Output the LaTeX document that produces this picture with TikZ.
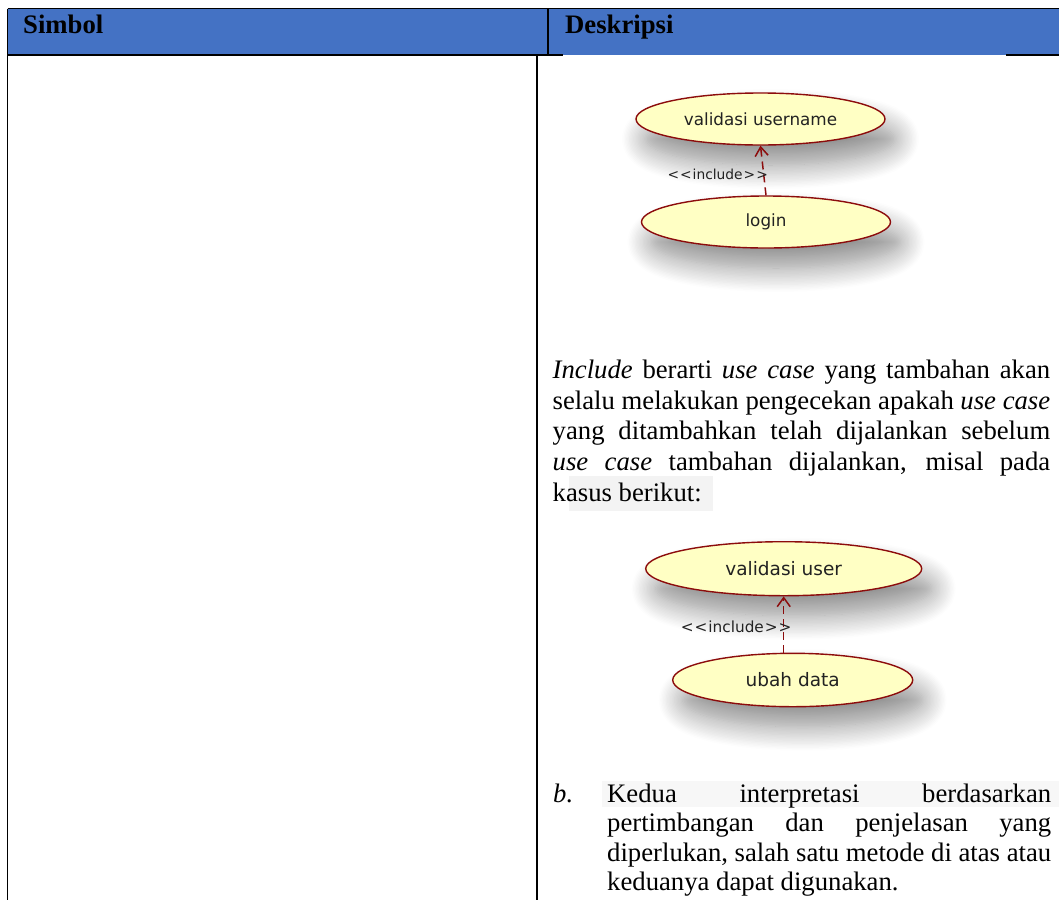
\documentclass[tikz,border=0pt]{standalone}
\usepackage{fontspec}
\setmainfont{Liberation Serif}
\newfontfamily\ucfont{DejaVu Sans}
\usetikzlibrary{shapes.geometric,arrows.meta,shadows.blur}

\definecolor{hdrblue}{RGB}{68,114,196}
\definecolor{ucfill}{RGB}{255,255,196}
\definecolor{ucedge}{RGB}{140,12,12}
\definecolor{uctext}{RGB}{34,34,34}
\definecolor{scanbg}{RGB}{243,243,243}

\tikzset{
  rule/.style={line width=1.5pt, black},
  hdrtext/.style={anchor=base west, inner sep=0pt,
    font=\fontsize{26.7}{30.7}\selectfont\bfseries},
  bodyline/.style={anchor=base west, inner sep=0pt,
    font=\fontsize{26.7}{30.7}\selectfont},
  usecase/.style={ellipse, draw=ucedge, line width=1.4pt, fill=ucfill,
    inner sep=0pt, text=uctext,
    blur shadow={shadow xshift=10pt, shadow yshift=-20pt,
      shadow blur radius=24pt, shadow opacity=45, shadow blur steps=18}},
  incl/.style={draw=ucedge, line width=1.5pt, dash pattern=on 8pt off 5pt,
    -{Straight Barb[length=9pt,width=13pt]}},
  incltext/.style={inner sep=0pt, text=uctext, anchor=east},
}

\begin{document}
\begin{tikzpicture}[x=1pt, y=-1pt]
  \useasboundingbox (0,0) rectangle (1059,900);

  % table header and rules
  \fill[hdrblue] (7.5,8.5) rectangle (1059,55);
  \draw[rule] (7.5,8.5) -- (1059,8.5);
  \draw[rule] (7.5,8.5) -- (7.5,900);
  \draw[rule] (548,8.5) -- (548,55);
  \draw[rule] (7.5,55) -- (563,55);
  \draw[rule] (1006,55) -- (1059,55);
  \draw[rule] (537,55) -- (537,900);

  \node[hdrtext] (hSym) at (23,33.5) {Simbol};
  \node[hdrtext] (hDesc) at (565,33.5) {Deskripsi};

  % first use case diagram
  \node[usecase, minimum width=249pt, minimum height=52pt,
        font=\ucfont\fontsize{16.8}{18}\selectfont]
        (valU) at (760.5,119) {validasi username};
  \node[usecase, minimum width=249pt, minimum height=52pt,
        font=\ucfont\fontsize{16.8}{18}\selectfont]
        (login) at (766,222) {login};
  \draw[incl] (login.north) -- (valU.south);
  \node[incltext, font=\ucfont\fontsize{13.8}{15}\selectfont]
        (incA) at (768,174) {<\kern1pt<\kern1pt include\kern1pt>\kern1pt>};

  % scanned text backgrounds
  \fill[scanbg] (569,476) rectangle (713,511);
  \fill[scanbg!70!white] (602,781) rectangle (1059,807);

  % paragraph
  \node[bodyline] (p1) at (552.5,378.5)
    {\makebox[497.5pt][s]{\textit{Include} berarti \textit{use case} yang tambahan akan}};
  \node[bodyline] (p2) at (552.5,409.2)
    {\makebox[497.5pt][s]{selalu melakukan pengecekan apakah \textit{use case}}};
  \node[bodyline] (p3) at (552.5,439.9)
    {\makebox[497.5pt][s]{yang ditambahkan telah dijalankan sebelum}};
  \node[bodyline] (p4) at (552.5,470.6)
    {\makebox[497.5pt][s]{\textit{use case} tambahan dijalankan, misal pada}};
  \node[bodyline] (p5) at (552.5,501.3) {kasus berikut:};

  % second use case diagram
  \node[usecase, minimum width=276pt, minimum height=54pt,
        font=\ucfont\fontsize{18.5}{20}\selectfont]
        (valUser) at (783.7,568.7) {validasi user};
  \node[usecase, minimum width=240pt, minimum height=53.4pt,
        font=\ucfont\fontsize{18.5}{20}\selectfont]
        (ubah) at (792.7,680) {ubah data};
  \draw[incl] (ubah.north -| valUser.south) -- (valUser.south);
  \node[incltext, font=\ucfont\fontsize{15.3}{17}\selectfont]
        (incB) at (791.7,626.7) {<\kern1pt<\kern1pt include\kern1pt>\kern1pt>};

  % list item b
  \node[bodyline] (bMark) at (553,802.5) {\textit{b.}};
  \node[bodyline] (b1) at (607,802.5)
    {\makebox[444pt][s]{Kedua interpretasi berdasarkan}};
  \node[bodyline] (b2) at (607,831.8)
    {\makebox[444pt][s]{pertimbangan dan penjelasan yang}};
  \node[bodyline] (b3) at (607,861.1)
    {\makebox[444pt][s]{diperlukan, salah satu metode di atas atau}};
  \node[bodyline] (b4) at (607,890.4) {keduanya dapat digunakan.};
\end{tikzpicture}
\end{document}
